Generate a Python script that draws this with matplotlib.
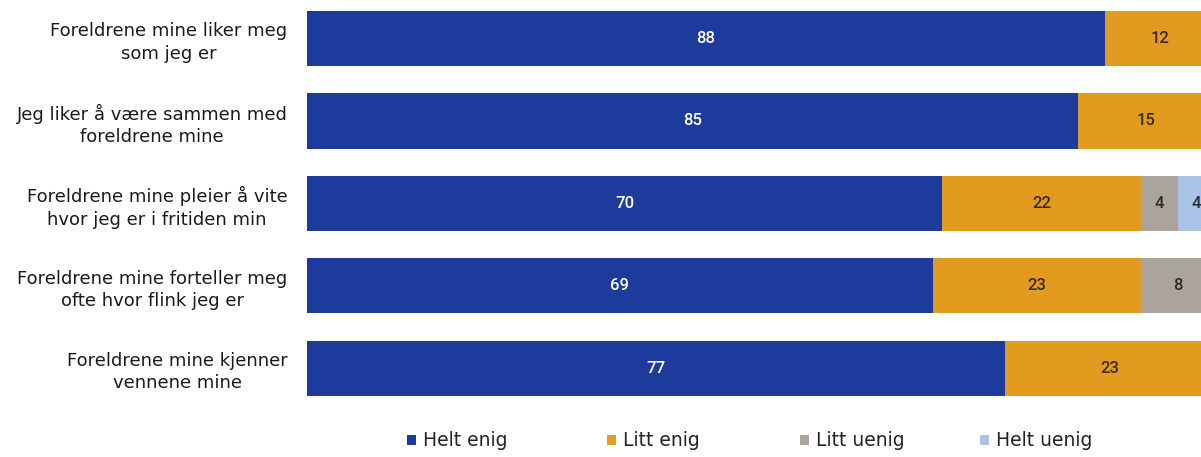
import matplotlib
matplotlib.use("Agg")
import matplotlib.pyplot as plt
from matplotlib.patches import Patch
import numpy as np

plt.rcParams['font.family'] = ['DejaVu Sans']

categories = [
    "Foreldrene mine liker meg\nsom jeg er",
    "Jeg liker å være sammen med\nforeldrene mine",
    "Foreldrene mine pleier å vite\nhvor jeg er i fritiden min",
    "Foreldrene mine forteller meg\nofte hvor flink jeg er",
    "Foreldrene mine kjenner\nvennene mine",
]
series_names = ["Helt enig", "Litt enig", "Litt uenig", "Helt uenig"]
helt_enig = [88, 85, 70, 69, 77]
litt_enig = [12, 15, 22, 23, 23]
litt_uenig = [0, 0, 4, 8, 0]
helt_uenig = [0, 0, 4, 0, 0]

colors = ["#1d3b9c", "#e39b1f", "#aba49d", "#a8c3e6"]
text_colors = ["white", "#3a2a10", "#2a2a2a", "#2a2a3a"]

W, H = 1201, 457
fig = plt.figure(figsize=(W / 100, H / 100), dpi=100)
ax = fig.add_axes([307 / W, 1 - 410 / H, (1214 - 307) / W, 410 / H])

data = [helt_enig, litt_enig, litt_uenig, helt_uenig]
y = np.arange(len(categories))
left = np.zeros(len(categories))
for vals, col, tc in zip(data, colors, text_colors):
    vals = np.array(vals, dtype=float)
    ax.barh(y, vals, left=left, height=0.67, color=col, edgecolor='none')
    for yi, (l, v) in enumerate(zip(left, vals)):
        if v > 0:
            ax.text(l + v / 2, yi, f"{int(v)}", ha='center', va='center',
                    color=tc, fontsize=12, family='Roboto', weight='medium')
    left += vals

ax.set_xlim(0, 100)
ax.set_ylim(4.508, -0.467)
ax.set_yticks(y)
ax.set_yticklabels(categories, fontsize=13, color='#1a1a1a', linespacing=1.3,
                   ha='right', multialignment='center')
ax.tick_params(axis='y', length=0, pad=14)
ax.set_xticks([])
for s in ax.spines.values():
    s.set_visible(False)

# legend entries placed individually (marker x positions in pixels)
legend_x = [407, 607, 800, 980]
for name, col, lx in zip(series_names, colors, legend_x):
    fig.legend([Patch(facecolor=col, edgecolor='none')], [name],
               loc='center left', bbox_to_anchor=(lx / W, 1 - 441 / H),
               frameon=False, fontsize=13.5, handlelength=0.5, handleheight=0.5,
               handletextpad=0.35, borderpad=0, borderaxespad=0,
               labelcolor='#222222')

fig.savefig("out.png", dpi=100)
